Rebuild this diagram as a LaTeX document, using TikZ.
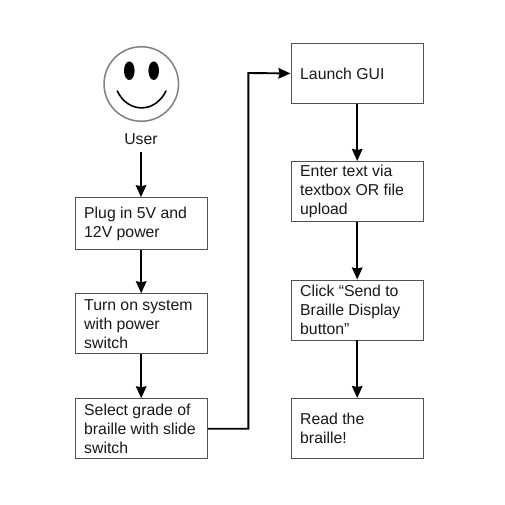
\documentclass[tikz,border=0pt]{standalone}
\usepackage{fontspec}
\setmainfont{Liberation Sans}
\usetikzlibrary{arrows.meta}
\tikzset{
 stepbox/.style={draw=black!68,line width=0.9pt,minimum width=132.5pt,text width=114pt,inner xsep=9.25pt,inner ysep=0pt,align=flush left,anchor=north west,font=\fontsize{15.8}{19}\selectfont,text=black!90},
 conn/.style={draw=black,line width=1.9pt,-{Stealth[length=12pt,width=10.5pt,inset=1pt]}}
}
\begin{document}
\begin{tikzpicture}[x=1pt,y=-1pt]
\useasboundingbox[fill=white] (0,0) rectangle (505,505);
\node[draw=black!50,line width=1.5pt,fill=white,circle,minimum size=74.5pt,inner sep=0pt] (face) at (141.3,84) {};
\fill (129.3,70.7) ellipse (5.3 and 9.3);
\fill (153.7,70.7) ellipse (5.3 and 9.3);
\draw[line width=1.6pt,line cap=round] (117.3,91) .. controls (128,113.5) and (155,113.5) .. (166,91);
\node[font=\fontsize{15.8}{19}\selectfont,inner sep=0pt,text=black!90] (user) at (141,139.3) {User};
\node[stepbox,minimum height=52pt] (a) at (74.5,197.2) {Plug in 5V and\\12V power};
\node[stepbox,minimum height=60pt] (b) at (74.5,293.3) {Turn on system\\with power\\switch};
\node[stepbox,minimum height=60pt] (c) at (74.5,398.3) {Select grade of\\braille with slide\\switch};
\node[stepbox,minimum height=60pt] (d) at (290.5,43) {Launch GUI};
\node[stepbox,minimum height=60pt] (e) at (290.5,161) {Enter text via\\textbox OR file\\upload};
\node[stepbox,minimum height=60pt] (f) at (290.5,279.5) {Click “Send to\\Braille Display\\button”};
\node[stepbox,minimum height=60pt] (g) at (290.5,398) {Read the\\braille!};
\coordinate (ua) at (user.south |- 0,152.5);
\draw[conn] (ua) -- (ua |- a.north);
\draw[conn] (a) -- (b);
\draw[conn] (b) -- (c);
\draw[conn] (c.east) -| (248.3,73) -- (d.west);
\draw[conn] (d) -- (e);
\draw[conn] (e) -- (f);
\draw[conn] (f) -- (g);
\end{tikzpicture}
\end{document}
